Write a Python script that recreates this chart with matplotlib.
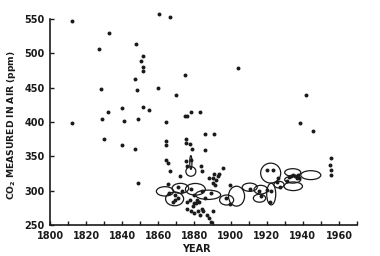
import matplotlib
matplotlib.use("Agg")
import matplotlib.pyplot as plt
from matplotlib.patches import Ellipse

# Measurements (year, CO2 ppm)
years = [1812, 1812, 1827, 1828, 1829, 1830, 1832.5, 1832, 1840, 1840, 1841,
         1847, 1847, 1847.5, 1848, 1848.5, 1849, 1850.5, 1851.5, 1851.5, 1851.5,
         1851.5, 1855, 1860.5, 1860, 1864.5, 1866.5, 1869.5, 1874.5, 1874.5, 1876,
         1878, 1883, 1904, 1938.5, 1941.5, 1945.5, 1955.5, 1955, 1955.5, 1955.5,
         1864.4, 1864.4, 1875.4, 1875.4, 1877.8, 1878.5, 1886, 1891, 1886,
         1864, 1865.5, 1866.3, 1865.4, 1872, 1875.5, 1878, 1876, 1883.7, 1884,
         1896, 1893.7, 1893, 1892, 1888, 1890, 1891, 1890.5, 1891.5,
         1869.4, 1869, 1870.7, 1868, 1866, 1873, 1875.6, 1877.8, 1879.6, 1881,
         1881.5, 1882.3, 1876, 1878, 1880, 1882, 1884, 1885, 1883, 1879, 1887,
         1888, 1889, 1890, 1886, 1889, 1884, 1878, 1871, 1880,
         1899.6, 1899.6, 1897.6, 1910.7, 1915.7, 1916.7, 1920, 1923.7, 1926.3,
         1925.6, 1920.4, 1922.6, 1921.8, 1927.4, 1932.6, 1933.7, 1934.8, 1935.7,
         1937.6, 1936.7, 1938, 1931.5]
ppm = [547, 399, 507, 448, 405, 375, 530, 414, 420, 367, 401,
       361, 463, 514, 446, 404, 311, 489, 496, 480, 474,
       422, 417, 557, 450, 400, 553, 439, 469, 409, 409,
       415, 414, 478, 398, 439, 387, 348, 338, 330, 323,
       372, 366, 375, 369, 368, 361, 382, 382, 359,
       345, 341, 328, 310, 321, 343, 344, 336, 336, 328,
       333, 325, 321, 316, 318, 318, 324, 311, 308,
       293, 286, 290, 283, 296, 300, 284, 286, 282, 282,
       287, 284, 274, 271, 268, 271, 274, 270, 265, 278, 265,
       260, 255, 271, 290, 296, 300, 302, 305, 294,
       308, 281, 290, 302, 299, 292, 330.5, 330.5, 319,
       312, 301, 299, 283.5, 306, 319.5, 321, 323, 322,
       323, 318, 319, 314]

# Closed contours drawn around groups of measurements
ell_x = [1863.7, 1869, 1872.2, 1880.5, 1887.5, 1878, 1878, 1897.8, 1903.3, 1910.6,
         1916.7, 1916, 1922.2, 1922.5, 1926.8, 1934.4, 1934.4, 1934.7, 1944.4]
ell_y = [299, 288, 303.4, 302, 294, 328, 341, 286.4, 292, 305,
         301.4, 289, 325.6, 295, 308.8, 326.5, 316, 306.4, 322.6]
ell_w = [9.6, 10, 9.2, 11, 14, 5.5, 1.2, 7.8, 8.9, 8.3,
         7.4, 6.8, 11.1, 5, 5.6, 8.9, 8.9, 10.2, 11.1]
ell_h = [13.6, 20, 14.5, 17, 13.6, 14, 20, 14.6, 29, 12,
         12.7, 11.6, 29, 31.5, 9.7, 11, 10, 12.6, 13]

xticks = [1800, 1820, 1840, 1860, 1880, 1900, 1920, 1940, 1960]
yticks = [250, 300, 350, 400, 450, 500, 550]

ink = "#1a1a1a"
fig = plt.figure(figsize=(3.8, 2.56), dpi=100)
ax = fig.add_axes([50/380, 31/256, 307/380, 206/256])

for x, y, w, h in zip(ell_x, ell_y, ell_w, ell_h):
    ax.add_patch(Ellipse((x, y), w, h, fill=False, ec=ink, lw=0.9))
ax.scatter(years, ppm, s=8, c=ink, lw=0, zorder=3, clip_on=False)

ax.set_xlim(1800, 1970)
ax.set_ylim(250, 550)
ax.set_xticks(xticks)
ax.set_xticks(range(1800, 1971, 10), minor=True)
ax.set_yticks(yticks)
ax.spines["top"].set_visible(False)
ax.spines["right"].set_visible(False)
for s in ("left", "bottom"):
    ax.spines[s].set_linewidth(1.2)
    ax.spines[s].set_color(ink)
ax.tick_params(axis="both", which="both", direction="in", length=3, width=1, color=ink,
               labelsize=7, labelcolor=ink, pad=4)
ax.tick_params(axis="x", which="minor", length=3)
for lab in ax.get_xticklabels() + ax.get_yticklabels():
    lab.set_fontweight("bold")

fig.text(12/380, 1 - 125/256, "CO$_\\mathbf{2}$ MEASURED IN AIR (ppm)", rotation=90,
         ha="center", va="center", fontsize=6.6, fontweight="bold", color=ink)
fig.text(196/380, 1 - 249/256, "YEAR", ha="center", va="center",
         fontsize=7, fontweight="bold", color=ink)

fig.savefig("out.png", dpi=100)
